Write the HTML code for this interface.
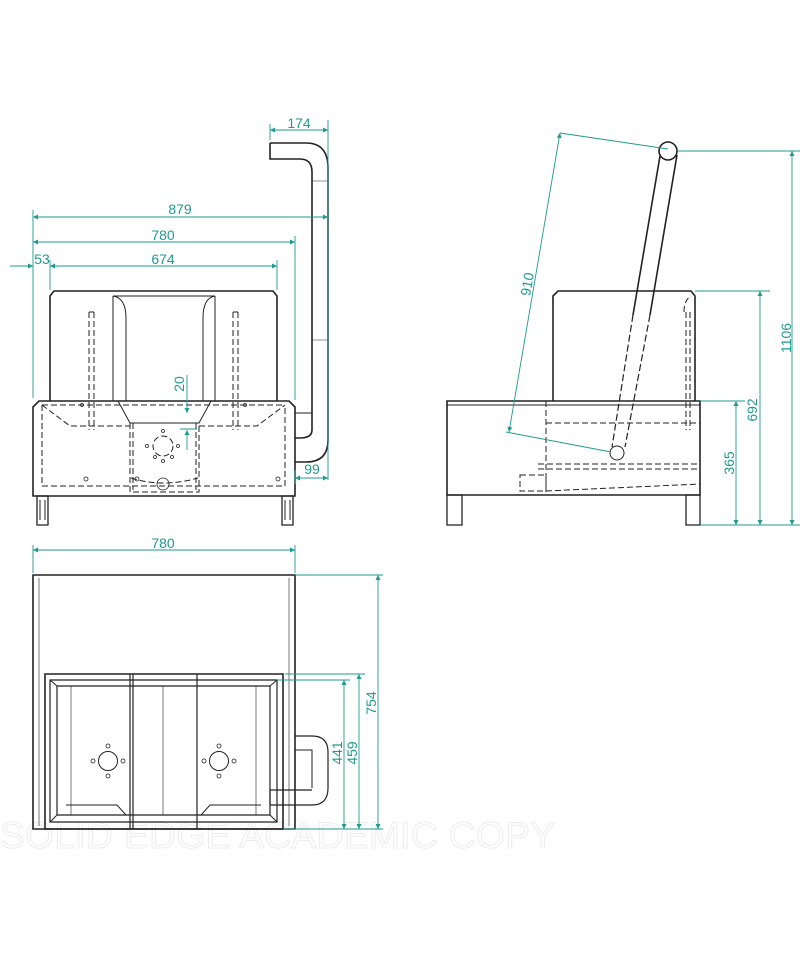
<!DOCTYPE html>
<html><head><style>html,body{margin:0;padding:0;background:#fff}svg{display:block}</style></head>
<body>
<svg width="800" height="960" viewBox="0 0 800 960" xmlns="http://www.w3.org/2000/svg" font-family="Liberation Sans, sans-serif">
<defs>
<marker id="a" viewBox="0 0 10 10" refX="10" refY="5" markerWidth="9" markerHeight="5" orient="auto-start-reverse" markerUnits="userSpaceOnUse"><path d="M0,0L10,5L0,10z" fill="#1e9a90"/></marker>
</defs>
<text x="0" y="848" font-size="37" fill="none" stroke="#ececec" stroke-width="1" textLength="555">SOLID EDGE ACADEMIC COPY</text>

<g stroke="#222" fill="none" stroke-width="1.6">
<path d="M270,143 H306 Q328,143 328,168 V440 Q328,462 306,462 H295"/>
<path d="M270,143 V159 H300 Q312,159 312,172 V430 Q312,438 300,438 H295"/>
<path d="M295,413 H312" stroke-width="1"/>
<path d="M312,181 H328 M312,340 H328" stroke-width="0.6"/>
<path d="M33,407 L39,401 H289 L295,407 V496 H33 Z"/>
<path d="M50,401 V296 L54,291 H273 L277,296 V401"/>
<path d="M113,296 H215" stroke-width="1"/>
<path d="M113,296 V401 M215,296 V401" stroke-width="1"/>
<path d="M126,401 V318 Q126,298 113,296 M203,401 V318 Q203,298 215,296" stroke-width="1"/>
<path d="M118,401 L130,423 H199 L211,401" stroke-width="1"/>
<g stroke-dasharray="6,3" stroke-width="1">
<path d="M42,405 V486 H285 V405 M42,405 H285"/>
<path d="M42,405 L70,426 H130 M199,426 H257 L285,405"/>
<path d="M130,423 V492 H199 V423"/>
<path d="M133,423 V490 M196,423 V490"/>
<path d="M89,312 V430 M94,312 V430 M233,312 V430 M238,312 V430 M89,312 H94 M233,312 H238"/>
<circle cx="163" cy="446" r="10"/>
<path d="M131,478 Q163,488 198,478"/>
</g>
<g stroke-width="0.8">
<circle cx="163" cy="484" r="6"/>
<circle cx="163" cy="431" r="1.5"/><circle cx="163" cy="461" r="1.5"/>
<circle cx="147" cy="446" r="1.5"/><circle cx="178" cy="446" r="1.5"/>
<circle cx="155" cy="457" r="1.5"/><circle cx="172" cy="457" r="1.5"/>
<circle cx="86" cy="479" r="2"/><circle cx="278" cy="479" r="2"/><circle cx="137" cy="479" r="2"/>
<circle cx="82" cy="405" r="1.5"/><circle cx="245" cy="405" r="1.5"/>
</g>
<path d="M37,496 h11 v29 h-11 z M282,496 h11 v29 h-11 z" stroke-width="1.3"/>
<path d="M40,500 v20 M45,500 v20 M285,500 v20 M290,500 v20" stroke-width="1"/>

<path d="M447,401 H700 V495 H447 Z"/>
<path d="M447,405 H700" stroke-width="1"/>
<path d="M553,401 V296 L558,291 H691 L695,296 V401"/>
<circle cx="668" cy="151" r="9"/>
<path d="M660,156 L633,315 M677,155 L650,315"/>
<path d="M633,315 L612,447 M650,315 L625,447" stroke-dasharray="7,3" stroke-width="1.2"/>
<circle cx="617" cy="453" r="7" stroke-width="1"/>
<g stroke-dasharray="6,3" stroke-width="1">
<path d="M546,401 V492 M546,423 H700 M538,464 H700 M538,469 H700 M520,475 H546 V491 H520 Z M546,491 L700,484"/>
<path d="M686,312 V430 M690,312 V430 M684,312 Q684,300 691,296"/>
</g>
<path d="M447,495 h15 v30 h-15 z M686,495 h14 v30 h-14 z" stroke-width="1.3"/>

<path d="M33,575 H295 V829 H33 Z"/>
<path d="M39,578 V826 M289,578 V826" stroke-width="0.6"/>
<path d="M45,674 H283 V829 H45 Z"/>
<path d="M50,680 H277 V822 H50 Z M57,686 H270 V815 H57 Z" stroke-width="1.2"/>
<path d="M50,680 L57,686 M277,680 L270,686 M50,822 L57,815 M277,822 L270,815" stroke-width="1"/>
<path d="M130,674 V829 M133,674 V829 M197,674 V829" stroke-width="1.2"/>
<path d="M71,686 V815 M163,686 V815 M256,686 V815" stroke-width="0.6"/>
<path d="M57,815 L126,815 L117,805 L66,805 M270,815 L201,815 L210,805 L261,805" stroke-width="1"/>
<circle cx="108" cy="761" r="9.5" stroke-width="1"/><circle cx="219" cy="761" r="9.5" stroke-width="1"/>
<g stroke-width="0.8">
<circle cx="108" cy="746" r="2"/><circle cx="108" cy="776" r="2"/><circle cx="93" cy="761" r="2"/><circle cx="123" cy="761" r="2"/>
<circle cx="219" cy="746" r="2"/><circle cx="219" cy="776" r="2"/><circle cx="204" cy="761" r="2"/><circle cx="234" cy="761" r="2"/>
</g>
<path d="M295,736 H312 Q328,736 328,752 V788 Q328,805 312,805 H270 V790 H312" stroke-width="1.2"/>
<path d="M295,750 H312 V788" stroke-width="1"/>
</g>

<g stroke="#1e9a90" stroke-width="0.9" fill="none">
<path d="M270,140 V124 M328,143 V124 M328,120 V480 M33,398 V210 M295,400 V236 M50,290 V260 M277,290 V260 M295,470 V484"/>
<path d="M270,130 H328" marker-start="url(#a)" marker-end="url(#a)"/>
<path d="M33,217 H328" marker-start="url(#a)" marker-end="url(#a)"/>
<path d="M33,242 H295" marker-start="url(#a)" marker-end="url(#a)"/>
<path d="M50,266 H277" marker-start="url(#a)" marker-end="url(#a)"/>
<path d="M10,266 H33" marker-end="url(#a)"/>
<path d="M295,478 H328" marker-start="url(#a)" marker-end="url(#a)"/>
<path d="M187,375 V413" marker-end="url(#a)"/>
<path d="M187,450 V430" marker-end="url(#a)"/>
<path d="M180,429 H197"/>
<path d="M678,151 H800 M695,291 H770 M700,401 H745 M700,525 H800"/>
<path d="M792,151 V525" marker-start="url(#a)" marker-end="url(#a)"/>
<path d="M760,291 V525" marker-start="url(#a)" marker-end="url(#a)"/>
<path d="M736,401 V525" marker-start="url(#a)" marker-end="url(#a)"/>
<path d="M560,133 L668,149 M506,432 L611,452"/>
<path d="M560,133 L509,432" marker-start="url(#a)" marker-end="url(#a)"/>
<path d="M33,573 V545 M295,573 V545"/>
<path d="M33,550 H295" marker-start="url(#a)" marker-end="url(#a)"/>
<path d="M295,575 H383 M285,674 H365 M277,680 H350 M283,829 H383"/>
<path d="M378,575 V829" marker-start="url(#a)" marker-end="url(#a)"/>
<path d="M359,674 V829" marker-start="url(#a)" marker-end="url(#a)"/>
<path d="M344,680 V829" marker-start="url(#a)" marker-end="url(#a)"/>
</g>
<g fill="#1e9a90" font-size="14">
<text x="299" y="128" text-anchor="middle">174</text>
<text x="180" y="214" text-anchor="middle">879</text>
<text x="163" y="240" text-anchor="middle">780</text>
<text x="163" y="264" text-anchor="middle">674</text>
<text x="42" y="264" text-anchor="middle">53</text>
<text x="312" y="474" text-anchor="middle">99</text>
<text transform="translate(184,384) rotate(-90)" text-anchor="middle">20</text>
<text transform="translate(532,285) rotate(-80)" text-anchor="middle">910</text>
<text transform="translate(791,338) rotate(-90)" text-anchor="middle">1106</text>
<text transform="translate(757,410) rotate(-90)" text-anchor="middle">692</text>
<text transform="translate(734,463) rotate(-90)" text-anchor="middle">365</text>
<text x="163" y="548" text-anchor="middle">780</text>
<text transform="translate(376,703) rotate(-90)" text-anchor="middle">754</text>
<text transform="translate(357,753) rotate(-90)" text-anchor="middle">459</text>
<text transform="translate(342,753) rotate(-90)" text-anchor="middle">441</text>
</g>
</svg>
</body></html>
